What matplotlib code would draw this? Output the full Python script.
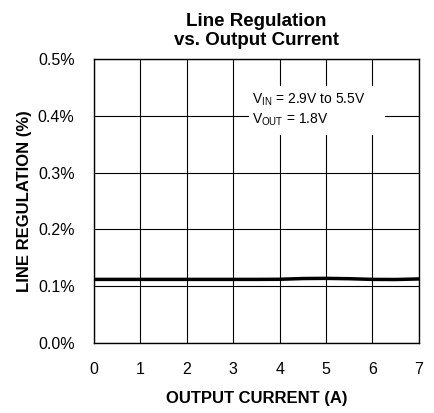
import matplotlib.pyplot as plt

plt.rcParams['font.family'] = ['Liberation Sans', 'DejaVu Sans']

# output current (A) and line regulation (%)
current = [0, 0.5, 1, 1.5, 2, 2.5, 3, 3.5, 4, 4.5, 5, 5.5, 6, 6.5, 7]
line_reg = [0.112, 0.112, 0.112, 0.112, 0.112, 0.112, 0.112, 0.112,
            0.1122, 0.1135, 0.1138, 0.1132, 0.112, 0.1118, 0.1128]

xticks = [0, 1, 2, 3, 4, 5, 6, 7]
yticks = [0.0, 0.1, 0.2, 0.3, 0.4, 0.5]
ylabels = ['0.0%', '0.1%', '0.2%', '0.3%', '0.4%', '0.5%']

fig = plt.figure(figsize=(4.35, 4.13), dpi=100)
ax = fig.add_axes([0.216, 0.1695, 0.747, 0.6875])

ax.plot(current, line_reg, color='black', lw=2.5, zorder=3)

ax.set_xlim(0, 7)
ax.set_ylim(0, 0.5)
ax.set_xticks(xticks)
ax.set_yticks(yticks)
ax.set_yticklabels(ylabels)
ax.grid(True, color='black', lw=0.8)
ax.tick_params(length=0, labelsize=11.5)
ax.tick_params(axis='x', pad=14)
ax.tick_params(axis='y', pad=14)
for s in ax.spines.values():
    s.set_linewidth(1.0)

ax.set_xlabel('OUTPUT CURRENT (A)', fontsize=12, fontweight='bold', labelpad=10)
ax.set_ylabel('LINE REGULATION (%)', fontsize=12, fontweight='bold', labelpad=4)
ax.set_title('Line Regulation\nvs. Output Current', fontsize=13.5, fontweight='bold', pad=10)

ax.text(3.41, 0.41, '$\\mathregular{V_{IN}}$ = 2.9V to 5.5V\n$\\mathregular{V_{OUT}}$ = 1.8V',
        fontsize=10, va='center', ha='left', linespacing=1.3, zorder=4)
# white patch behind the note, hides the grid lines
ax.axvspan(3.35, 6.26, ymin=0.732, ymax=0.905, color='white', lw=0, zorder=2.5)

fig.savefig('out.png', dpi=100)
